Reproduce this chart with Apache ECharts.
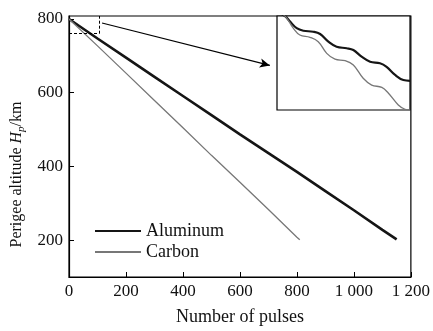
<!DOCTYPE html>
<html>
<head>
<meta charset="utf-8">
<script src="https://cdn.jsdelivr.net/npm/echarts@6/dist/echarts.min.js"></script>
<style>
  html, body { margin: 0; padding: 0; background: #fff; }
  #main { width: 433px; height: 331px; }
</style>
</head>
<body>
<div id="main"></div>
<script>
// main curves (pulses, perigee km)
const aluminumPulses = [0, 100, 200, 300, 400, 500, 600, 700, 800, 900, 1000, 1100, 1150];
const aluminumAlt = [800, 747, 695, 643, 591, 539, 487, 436, 385, 333, 281, 228, 202];
const carbonPulses = [0, 100, 200, 300, 400, 500, 600, 700, 800, 810];
const carbonAlt = [800, 727, 653, 579, 505, 430, 357, 283, 208, 201];

// zoomed-in start (inset)
const insetAlPulses = [0, 3.0, 4.9, 7.4, 9.9, 13.6, 16.2, 19.3, 22.4, 26.2, 28.7, 31.8, 35.0, 38.7, 41.2, 44.4, 47.5, 50];
const insetAlAlt = [801.5, 800, 797.8, 795.2, 794.2, 793.8, 792.9, 789.9, 787.9, 787.3, 786.6, 784.0, 782.0, 781.4, 780.0, 776.8, 774.8, 774.5];
const insetCPulses = [0, 3.0, 6.1, 8.6, 12.4, 15.5, 18.7, 21.8, 25.6, 28.7, 32.4, 35.6, 39.4, 41.9, 45.6, 48.1, 50];
const insetCAlt = [801.5, 800, 795.2, 792.5, 791.6, 789.9, 785.3, 783.0, 782.4, 780.7, 775.5, 772.8, 771.9, 769.6, 765.0, 763.3, 763];

const xTicks = [0, 200, 400, 600, 800, 1000, 1200];
const yTicks = [200, 400, 600, 800];

// dashed zoom box corner and arrow ends (data coords)
const boxCorner = [105, 760];
const arrowFrom = [116, 789];
const arrowTo = [705, 674];

const zip = (xs, ys) => xs.map((x, i) => [x, ys[i]]);

const font = 'Liberation Serif';
const chart = echarts.init(document.getElementById('main'));

chart.setOption({
  animation: false,
  textStyle: { fontFamily: font },
  grid: [
    { left: 69, right: 22, top: 16, bottom: 50, show: true, borderColor: '#000', borderWidth: 1.2 },
    { left: 277, top: 16, width: 133, height: 94, show: true, borderColor: '#000', borderWidth: 1.2, backgroundColor: '#fff' }
  ],
  legend: {
    orient: 'vertical',
    left: 89,
    top: 217,
    itemWidth: 46,
    itemHeight: 14,
    itemGap: 3,
    itemStyle: { opacity: 0 },
    data: ['Aluminum', 'Carbon'],
    textStyle: { fontFamily: font, fontSize: 18, color: '#111' }
  },
  xAxis: [
    {
      gridIndex: 0,
      type: 'value',
      min: 0,
      max: 1200,
      interval: 200,
      name: 'Number of pulses',
      nameLocation: 'middle',
      nameGap: 31,
      nameTextStyle: { fontFamily: font, fontSize: 18, color: '#111' },
      axisLine: { lineStyle: { color: '#000', width: 1.2 } },
      axisTick: { inside: true, length: 5, lineStyle: { color: '#000', width: 1 } },
      axisLabel: {
        fontFamily: font, fontSize: 17, color: '#111', margin: 6,
        customValues: xTicks,
        formatter: v => v >= 1000 ? Math.floor(v / 1000) + ' ' + String(v % 1000).padStart(3, '0') : String(v)
      },
      splitLine: { show: false }
    },
    {
      gridIndex: 1, type: 'value', min: 0, max: 50,
      axisLine: { show: false }, axisTick: { show: false }, axisLabel: { show: false }, splitLine: { show: false }
    }
  ],
  yAxis: [
    {
      gridIndex: 0,
      type: 'value',
      min: 100,
      max: 808,
      name: '{a|Perigee altitude }{i|H}{s|p}{a|/km}',
      nameLocation: 'middle',
      nameGap: 42,
      nameRotate: 90,
      nameTextStyle: {
        color: '#111',
        fontFamily: font,
        fontSize: 16,
        align: 'center',
        verticalAlign: 'middle',
        padding: [0, 56, 0, 0],
        rich: {
          a: { fontFamily: font, fontSize: 16, lineHeight: 20, color: '#111' },
          i: { fontFamily: font, fontSize: 16, lineHeight: 20, fontStyle: 'italic', color: '#111' },
          s: { fontFamily: font, fontSize: 11, lineHeight: 11, fontStyle: 'italic', verticalAlign: 'bottom', color: '#111' }
        }
      },
      axisLine: { lineStyle: { color: '#000', width: 1.2 } },
      axisTick: { inside: true, length: 5, customValues: yTicks, lineStyle: { color: '#000', width: 1 } },
      axisLabel: { fontFamily: font, fontSize: 17, color: '#111', margin: 6, customValues: yTicks },
      splitLine: { show: false }
    },
    {
      gridIndex: 1, type: 'value', min: 763, max: 800,
      axisLine: { show: false }, axisTick: { show: false }, axisLabel: { show: false }, splitLine: { show: false }
    }
  ],
  series: [
    {
      name: 'Aluminum',
      type: 'line',
      xAxisIndex: 0, yAxisIndex: 0,
      data: zip(aluminumPulses, aluminumAlt),
      symbol: 'none',
      lineStyle: { color: '#151515', width: 2.6 },
      itemStyle: { color: '#151515' },
      silent: true,
      markLine: {
        silent: true,
        symbol: 'none',
        label: { show: false },
        lineStyle: { color: '#000', width: 1, type: [3, 2] },
        data: [
          [{ coord: [0, boxCorner[1]] }, { coord: boxCorner }],
          [{ coord: boxCorner }, { coord: [boxCorner[0], 808] }],
          [
            { coord: arrowFrom, symbol: 'none', lineStyle: { type: 'solid', width: 1.1 } },
            { coord: arrowTo, symbol: 'arrow', symbolSize: [7, 10] }
          ]
        ]
      }
    },
    {
      name: 'Carbon',
      type: 'line',
      xAxisIndex: 0, yAxisIndex: 0,
      data: zip(carbonPulses, carbonAlt),
      symbol: 'none',
      lineStyle: { color: '#777', width: 1.3 },
      itemStyle: { color: '#777' },
      silent: true
    },
    {
      name: 'Aluminum',
      type: 'line',
      xAxisIndex: 1, yAxisIndex: 1,
      data: zip(insetAlPulses, insetAlAlt),
      smooth: 0.4,
      symbol: 'none',
      clip: true,
      lineStyle: { color: '#151515', width: 2.2 },
      silent: true
    },
    {
      name: 'Carbon',
      type: 'line',
      xAxisIndex: 1, yAxisIndex: 1,
      data: zip(insetCPulses, insetCAlt),
      smooth: 0.4,
      symbol: 'none',
      clip: true,
      lineStyle: { color: '#777', width: 1.3 },
      silent: true
    }
  ]
});
</script>
</body>
</html>
